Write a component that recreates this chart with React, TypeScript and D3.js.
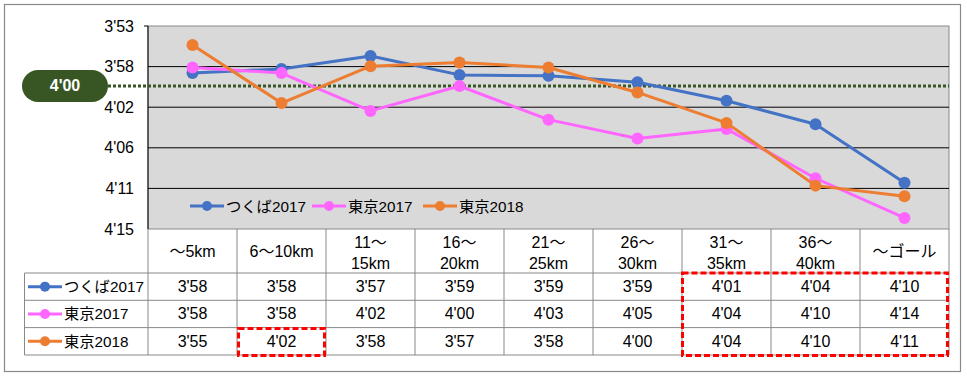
import React from "react";
import * as d3 from "d3";

// ---- data ----
const categories: string[][] = [
  ["～5km"],
  ["6～10km"],
  ["11～", "15km"],
  ["16～", "20km"],
  ["21～", "25km"],
  ["26～", "30km"],
  ["31～", "35km"],
  ["36～", "40km"],
  ["～ゴール"],
];
const seriesNames = ["つくば2017", "東京2017", "東京2018"];
const seriesColors = ["#4472C4", "#FF66FF", "#ED7D31"];
// pace in seconds per km (as plotted)
const tsukuba2017 = [238.1, 237.65, 236.25, 238.3, 238.4, 239.1, 241.1, 243.65, 250.0];
const tokyo2017 = [237.5, 238.1, 242.2, 239.5, 243.15, 245.2, 244.15, 249.5, 253.8];
const tokyo2018 = [235.05, 241.35, 237.35, 236.95, 237.5, 240.2, 243.5, 250.3, 251.45];
// table labels
const tableTsukuba2017 = ["3'58", "3'58", "3'57", "3'59", "3'59", "3'59", "4'01", "4'04", "4'10"];
const tableTokyo2017 = ["3'58", "3'58", "4'02", "4'00", "4'03", "4'05", "4'04", "4'10", "4'14"];
const tableTokyo2018 = ["3'55", "4'02", "3'58", "3'57", "3'58", "4'00", "4'04", "4'10", "4'11"];
const yTickLabels = ["3'53", "3'58", "4'02", "4'06", "4'11", "4'15"];
const yDomain = [233, 255];
const refValue = 239.5;
const refLabel = "4'00";

const FONT = "'Liberation Sans', Arial, 'Noto Sans CJK JP', sans-serif";
const FS = 16;
const FS_NAME = 15.3;

export default function App() {
  const W = 967, H = 377;
  const plot = { left: 148, right: 949, top: 26, bottom: 229 };
  const x = d3.scaleBand<number>().domain(d3.range(categories.length)).range([plot.left, plot.right]).padding(0);
  const y = d3.scaleLinear().domain(yDomain).range([plot.top, plot.bottom]);
  const cx = (i: number) => (x(i) as number) + x.bandwidth() / 2;
  const series = [tsukuba2017, tokyo2017, tokyo2018];
  const tables = [tableTsukuba2017, tableTokyo2017, tableTokyo2018];
  const line = d3.line<number>().x((_, i) => cx(i)).y((d) => y(d));
  const yTicks = yTickLabels.map((_, i) => yDomain[0] + (i * (yDomain[1] - yDomain[0])) / (yTickLabels.length - 1));

  const headerTop = plot.bottom;
  const headerBottom = 273;
  const rowTops = [273, 300.3, 327.6, 355];
  const tableLeft = 24.5;
  const grid = "#898989";

  const legendItems = [
    { x0: 190, tx: 226 },
    { x0: 312, tx: 348 },
    { x0: 423, tx: 459 },
  ];
  const legendY = 206;

  const box1 = { x: (x(1) as number) + 1.5, y: rowTops[2] + 1, w: x.bandwidth() - 3, h: rowTops[3] - rowTops[2] - 0.5 };
  const box2 = { x: (x(6) as number) + 0.5, y: rowTops[0], w: plot.right - (x(6) as number) - 2, h: rowTops[3] - rowTops[0] + 0.5 };

  return (
    <svg width={W} height={H} style={{ position: "absolute", left: 0, top: 0, background: "#fff" }} fontFamily={FONT}>
      <rect x={4.5} y={4.5} width={956} height={367} fill="#fff" stroke={grid} strokeWidth={1.2} />
      {/* plot area */}
      <rect x={plot.left} y={plot.top} width={plot.right - plot.left} height={plot.bottom - plot.top} fill="#D9D9D9" stroke={grid} strokeWidth={1} />
      {yTicks.slice(1, -1).map((t, i) => (
        <line key={i} x1={plot.left} x2={plot.right} y1={y(t)} y2={y(t)} stroke="#000" strokeWidth={1} />
      ))}
      <line x1={plot.left} x2={plot.left} y1={plot.top} y2={plot.bottom} stroke="#000" strokeWidth={1} />
      <line x1={plot.left - 4} x2={plot.left} y1={plot.top} y2={plot.top} stroke="#000" strokeWidth={1} />
      {/* y tick labels */}
      {yTicks.map((t, i) => (
        <text key={i} x={134} y={y(t)} textAnchor="end" dominantBaseline="central" fontSize={FS} fill="#000">
          {yTickLabels[i]}
        </text>
      ))}
      {/* reference line */}
      <line x1={108} x2={plot.right} y1={y(refValue)} y2={y(refValue)} stroke="#375623" strokeWidth={3} strokeDasharray="3 2" />
      <rect x={22} y={y(refValue) - 16} width={86} height={32} rx={16} ry={16} fill="#375623" />
      <text x={65} y={y(refValue)} textAnchor="middle" dominantBaseline="central" fontSize={FS} fontWeight="bold" fill="#fff">
        {refLabel}
      </text>
      {/* series */}
      {series.map((s, k) => (
        <g key={k}>
          <path d={line(s) as string} fill="none" stroke={seriesColors[k]} strokeWidth={3} strokeLinejoin="round" />
          {s.map((v, i) => (
            <circle key={i} cx={cx(i)} cy={y(v)} r={6} fill={seriesColors[k]} />
          ))}
        </g>
      ))}
      {/* legend */}
      {legendItems.map((l, k) => (
        <g key={k}>
          <line x1={l.x0} x2={l.x0 + 34} y1={legendY} y2={legendY} stroke={seriesColors[k]} strokeWidth={3} />
          <circle cx={l.x0 + 17} cy={legendY} r={5} fill={seriesColors[k]} />
          <text x={l.tx} y={legendY} dominantBaseline="central" fontSize={FS_NAME} fill="#000">
            {seriesNames[k]}
          </text>
        </g>
      ))}
      {/* table grid */}
      <g stroke={grid} strokeWidth={1} fill="none">
        {d3.range(categories.length + 1).map((i) => {
          const xx = i < categories.length ? (x(i) as number) : plot.right;
          return <line key={i} x1={xx} x2={xx} y1={headerTop} y2={rowTops[3]} />;
        })}
        {rowTops.map((r, i) => (
          <line key={i} x1={tableLeft} x2={plot.right} y1={r} y2={r} />
        ))}
        <line x1={tableLeft} x2={tableLeft} y1={rowTops[0]} y2={rowTops[3]} />
      </g>
      {/* header */}
      {categories.map((c, i) => (
        <g key={i}>
          {c.length === 1 ? (
            <text x={cx(i)} y={(headerTop + headerBottom) / 2} textAnchor="middle" dominantBaseline="central" fontSize={FS}>
              {c[0]}
            </text>
          ) : (
            c.map((t, j) => (
              <text key={j} x={cx(i)} y={242.5 + j * 20.5} textAnchor="middle" dominantBaseline="central" fontSize={FS}>
                {t}
              </text>
            ))
          )}
        </g>
      ))}
      {/* table rows */}
      {tables.map((row, k) => {
        const yc = (rowTops[k] + rowTops[k + 1]) / 2;
        return (
          <g key={k}>
            <line x1={28} x2={62} y1={yc} y2={yc} stroke={seriesColors[k]} strokeWidth={3} />
            <circle cx={45} cy={yc} r={5} fill={seriesColors[k]} />
            <text x={64} y={yc} dominantBaseline="central" fontSize={FS_NAME}>
              {seriesNames[k]}
            </text>
            {row.map((t, i) => (
              <text key={i} x={cx(i)} y={yc} textAnchor="middle" dominantBaseline="central" fontSize={FS}>
                {t}
              </text>
            ))}
          </g>
        );
      })}
      {/* highlight boxes */}
      <rect x={box1.x} y={box1.y} width={box1.w} height={box1.h} fill="none" stroke="#FF0000" strokeWidth={3} strokeDasharray="6 3" />
      <rect x={box2.x} y={box2.y} width={box2.w} height={box2.h} fill="none" stroke="#FF0000" strokeWidth={3} strokeDasharray="6 3" />
    </svg>
  );
}
